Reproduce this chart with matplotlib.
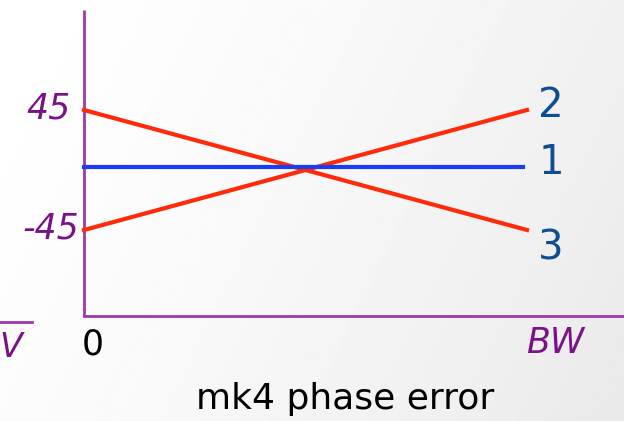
import numpy as np
import matplotlib.pyplot as plt

# phase of the three mk4 channels versus the phase error (0 .. BW)
x_err = [0.0, 1.0]
ch2_phase = [-45, 45]
ch3_phase = [45, -45]
ch1_x = [0.0, 0.99]
ch1_phase = [2, 2]
y_ticks = [45, -45]
y_tick_labels = ["45", "-45"]
channel_labels = ["1", "2", "3"]

purple = "#9b3aa8"
label_purple = "#7a1287"
num_blue = "#0d4d94"

fig = plt.figure(figsize=(6.24, 4.21), dpi=100)
ax = fig.add_axes([0, 0, 1, 1])

# pixel-aligned data limits: x 0 -> 84 px, 1 -> 527 px; y 45 -> 110 px, -45 -> 230 px
x0, x1 = -84 / 443, (624 - 84) / 443
y0, y1 = -188.25, 127.5
ax.set_xlim(x0, x1)
ax.set_ylim(y0, y1)
ax.axis("off")

# soft gradient background, white top-left to light grey at the right
gx, gy = np.meshgrid(np.linspace(0, 1, 200), np.linspace(0, 1, 200))
grad = 1 - 0.085 * (0.75 * gx + 0.25 * gy) ** 1.4
ax.imshow(grad, cmap="gray", vmin=0, vmax=1, extent=[x0, x1, y0, y1],
          aspect="auto", zorder=0, origin="upper")

# axes drawn as plain lines
ax.plot([0, 0], [-109.5, 120], color=purple, lw=2, zorder=2, solid_capstyle="butt")
ax.plot([0, 1.25], [-109.5, -109.5], color=purple, lw=2, zorder=2)
ax.plot([-0.2, -0.118], [-114, -114], color=purple, lw=2, zorder=2)
ax.text(-0.19, -121, "V", color=label_purple, fontsize=24, style="italic",
        ha="left", va="top", fontfamily="DejaVu Sans")

ax.plot(x_err, ch3_phase, color="#ff2a0a", lw=3, zorder=3)
ax.plot(x_err, ch2_phase, color="#ff2a0a", lw=3, zorder=3)
ax.plot(ch1_x, ch1_phase, color="#1a3cf5", lw=3, zorder=3)

for yv, lab, xo in zip(y_ticks, y_tick_labels, [-0.03, -0.01]):
    ax.text(xo, yv + 1, lab, color=label_purple, fontsize=25, style="italic",
            ha="right", va="center", fontfamily="DejaVu Sans")

ax.text(0.02, -131, "0", color="black", fontsize=25, ha="center", va="center",
        fontfamily="DejaVu Sans")
ax.text(1.063, -130, "BW", color=label_purple, fontsize=25, style="italic",
        ha="center", va="center", fontfamily="DejaVu Sans")
ax.text(0.589, -172, "mk4 phase error", color="black", fontsize=26,
        ha="center", va="center", fontfamily="DejaVu Sans")

label_y = [5, 48, -59]
for lab, yv in zip(channel_labels, label_y):
    ax.text(1.054, yv, lab, color=num_blue, fontsize=29, ha="center", va="center",
            fontfamily="DejaVu Sans", fontweight="medium")

fig.savefig("out.png", dpi=100)
